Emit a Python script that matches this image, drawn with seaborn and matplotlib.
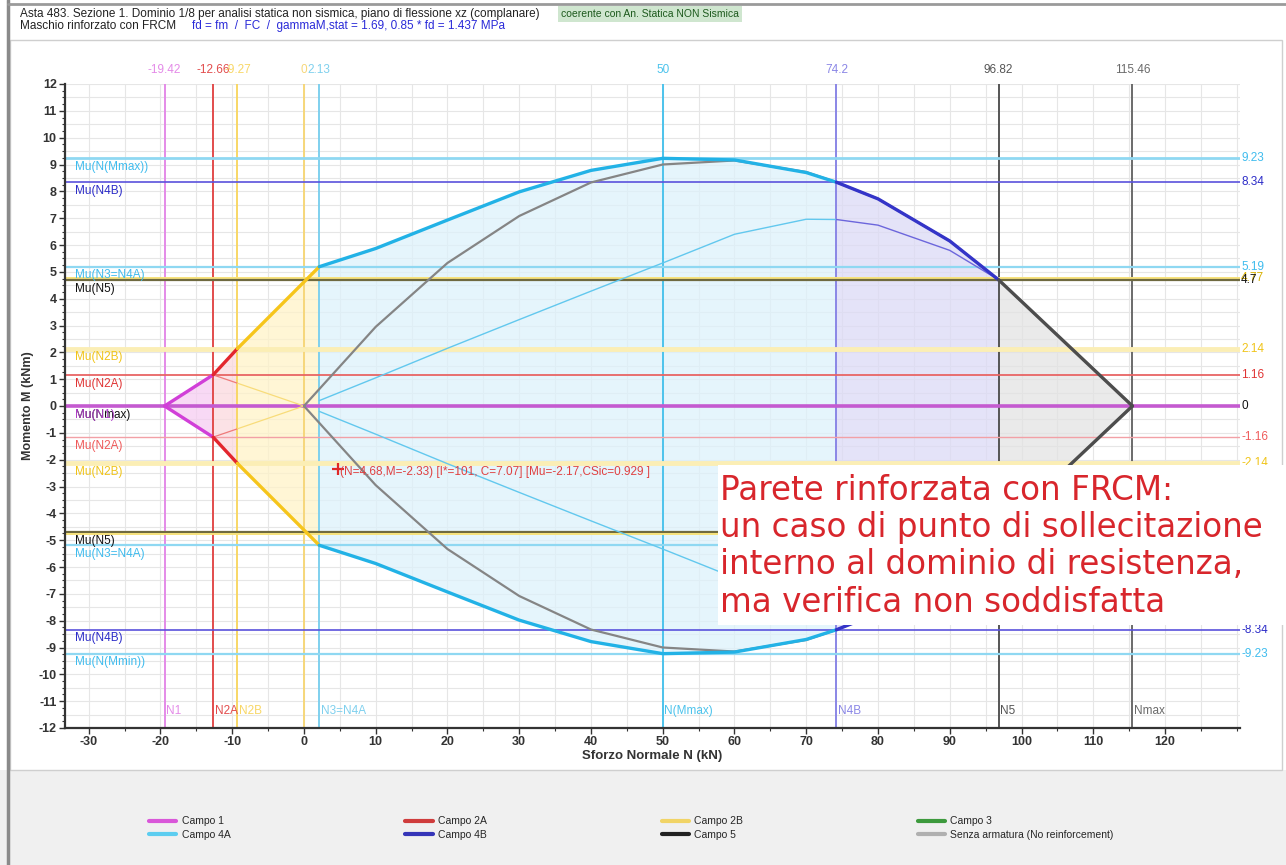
import numpy as np
import pandas as pd
import matplotlib
matplotlib.use("Agg")
import matplotlib.pyplot as plt
from matplotlib.lines import Line2D
from matplotlib.patches import Rectangle
import seaborn as sns

# ---- interaction domain data (N in kN, M in kNm) ----
dom_N = [-19.42, -12.66, -9.27, 2.13, 10, 20, 30, 40, 50, 60, 70, 74.2, 80, 90, 96.82, 115.46]
dom_M = [0.0, 1.16, 2.14, 5.19, 5.87, 6.93, 7.98, 8.78, 9.23, 9.17, 8.70, 8.34, 7.72, 6.15, 4.70, 0.0]
# index ranges of each strain field along the boundary
campo_names = ["Campo 1", "Campo 2A", "Campo 2B", "Campo 4A", "Campo 4B", "Campo 5"]
campo_idx = [(0, 1), (1, 2), (2, 3), (3, 11), (11, 14), (14, 15)]

# section without reinforcement
plain_N = [0, 10, 20, 30, 40, 50, 60, 70, 74.2, 80, 90, 96.82, 115.46]
plain_M = [0.0, 2.95, 5.33, 7.08, 8.33, 9.00, 9.15, 8.72, 8.34, 7.72, 6.15, 4.70, 0.0]

# inner branches (thin lines)
inner_a_N = [-12.66, -9.27]
inner_a_M = [1.16, 0.85]
inner_b_N = [-9.27, 0.0]
inner_b_M = [0.85, 0.0]
inner_c_N = [2.13, 10, 20, 30, 40, 50, 60, 70, 74.2]
inner_c_M = [0.20, 1.05, 2.15, 3.22, 4.28, 5.33, 6.40, 6.96, 6.95]
inner_d_N = [74.2, 80, 90, 96.82]
inner_d_M = [6.95, 6.74, 5.80, 4.70]

# characteristic axial forces (vertical lines)
v_N = [-19.42, -12.66, -9.27, 0.0, 2.13, 50, 74.2, 96.82, 115.46]
v_top = ["-19.42", "-12.66", "-9.27", "0", "2.13", "50", "74.2", "96.82", "115.46"]
v_bottom = ["N1", "N2A", "N2B", "", "N3=N4A", "N(Mmax)", "N4B", "N5", "Nmax"]

# characteristic resisting moments (horizontal lines)
h_M = [9.23, 8.34, 5.19, 4.77, 4.70, 2.14, 1.16, 0.0, -1.16, -2.14, -4.70, -4.77, -5.19, -8.34, -9.23]
h_right = ["9.23", "8.34", "5.19", "4.77", "4.7", "2.14", "1.16", "0", "-1.16", "-2.14", "", "", "", "-8.34", "-9.23"]
h_left = ["Mu(N(Mmax))", "Mu(N4B)", "Mu(N3=N4A)", "", "Mu(N5)", "Mu(N2B)", "Mu(N2A)", "Mu(Nmax)",
          "Mu(N2A)", "Mu(N2B)", "Mu(N5)", "", "Mu(N3=N4A)", "Mu(N4B)", "Mu(N(Mmin))"]

# verification point
pt_N, pt_M = 4.68, -2.33
pt_label = "(N=4.68,M=-2.33) [I*=101, C=7.07] [Mu=-2.17,CSic=0.929 ]"

legend_names = ["Campo 1", "Campo 2A", "Campo 2B", "Campo 3",
                "Campo 4A", "Campo 4B", "Campo 5", "Senza armatura (No reinforcement)"]

# ---- styling ----
sns.set_theme(style="white")
plt.rcParams["font.family"] = ["Liberation Sans", "DejaVu Sans"]
plt.rcParams["axes.unicode_minus"] = False

col_line = {"Campo 1": "#d13fd8", "Campo 2A": "#e3262e", "Campo 2B": "#f6c51b",
            "Campo 4A": "#22b2e6", "Campo 4B": "#3434c8", "Campo 5": "#4d4d4d"}
col_fill = {"Campo 1": "#f6cdf2", "Campo 2A": "#fbd9de", "Campo 2B": "#fff3c8",
            "Campo 4A": "#ddf2fb", "Campo 4B": "#dcdaf6", "Campo 5": "#e3e3e3"}
v_colors = ["#e48be8", "#e24c4c", "#f8d766", "#f6d77a", "#7fd0ee", "#4cc3ec", "#8a86e6", "#555555", "#6a6a6a"]
h_colors = ["#8fd8f2", "#5a52dc", "#8fd8f2", "#f7e27a", "#6f6a40", "#fbeeb5", "#e86464", "#c45ad0",
            "#f2a0a6", "#fbeeb5", "#6f6a40", "#f7e27a", "#8fd8f2", "#5a52dc", "#8fd8f2"]
h_widths = [2.0, 1.2, 1.6, 1.4, 1.6, 3.5, 1.3, 2.6, 1.0, 3.5, 1.6, 1.4, 1.6, 1.2, 1.6]
lab_colors = ["#3fbcee", "#2c2cc8", "#3fbcee", "#d8b000", "#111111", "#f0c419", "#e03434", "#111111",
              "#ef5a5a", "#f0c419", "#111111", "#d8b000", "#3fbcee", "#2c2cc8", "#3fbcee"]

W, H = 1286, 865
fig = plt.figure(figsize=(W / 100, H / 100), dpi=100, facecolor="white")

# page background pieces
fig.patches.append(Rectangle((0, 0), 1, 95 / H, transform=fig.transFigure,
                             facecolor="#f0f0f0", edgecolor="none", zorder=-5))
fig.patches.append(Rectangle((10 / W, 95 / H), 1272 / W, 730 / H, transform=fig.transFigure,
                             facecolor="white", edgecolor="#cfcfcf", lw=1.0, zorder=-4))
fig.add_artist(Line2D([8 / W, 8 / W], [0, 1], transform=fig.transFigure, color="#8a8a8a", lw=2.5))
fig.add_artist(Line2D([8 / W, 1], [1 - 4 / H, 1 - 4 / H], transform=fig.transFigure, color="#9a9a9a", lw=2))

x0, x1 = 65, 1240
y0, y1 = 84, 728
ax = fig.add_axes([x0 / W, 1 - y1 / H, (x1 - x0) / W, (y1 - y0) / H])
ax.set_facecolor("white")
ax.set_xlim(-33.3, 130.45)
ax.set_ylim(-12, 12)

# grid
ax.set_xticks(np.arange(-30, 121, 10))
ax.set_xticks(np.arange(-30, 131, 5), minor=True)
ax.set_yticks(np.arange(-12, 13, 1))
ax.set_yticks(np.arange(-12, 12.01, 0.25), minor=True)
for gx in np.arange(-30, 131, 5):
    ax.axvline(gx, color="#e6e6e6", lw=0.8, zorder=0)
for gy in np.arange(-11.5, 12.01, 0.5):
    ax.axhline(gy, color="#e6e6e6", lw=0.8, zorder=0)
ax.grid(False)

# filled regions of each field
dN = np.array(dom_N)
dM = np.array(dom_M)
for name, (i, j) in zip(campo_names, campo_idx):
    xs = dN[i:j + 1]
    ys = dM[i:j + 1]
    ax.fill_between(xs, ys, -ys, color=col_fill[name], alpha=0.75, lw=0, zorder=1)

# vertical reference lines
for n, c, lt, lb in zip(v_N, v_colors, v_top, v_bottom):
    ax.axvline(n, color=c, lw=1.4, zorder=2)
    ax.text(n, 12.3, lt, color=c, fontsize=8.5, ha="center", va="bottom", clip_on=False)
    if lb:
        ax.text(n + 0.2, -11.35, lb, color=c, fontsize=8.5, ha="left", va="center")

# horizontal reference lines with labels
for m, c, lw_, rl, ll, lc in zip(h_M, h_colors, h_widths, h_right, h_left, lab_colors):
    ax.axhline(m, color=c, lw=lw_, zorder=2)
    if rl:
        ax.text(1.001, m, rl, color=lc, fontsize=8.5, ha="left", va="center",
                transform=ax.get_yaxis_transform(), clip_on=False)
    if ll:
        ax.text(-31.9, m - 0.1, ll, color=lc, fontsize=8.5, ha="left", va="top", zorder=6)
# second label overlapping at M = 0
ax.text(-31.9, -0.1, "Mu(N1)", color="#b040c8", fontsize=8.5, ha="left", va="top", zorder=6)

# inner thin branches (upper and lower)
for sgn in (1, -1):
    sns.lineplot(x=inner_a_N, y=[sgn * v for v in inner_a_M], color="#ef7a7a", lw=0.9, sort=False, ax=ax, zorder=3)
    sns.lineplot(x=inner_b_N, y=[sgn * v for v in inner_b_M], color="#f8dc7a", lw=0.9, sort=False, ax=ax, zorder=3)
    sns.lineplot(x=inner_c_N, y=[sgn * v for v in inner_c_M], color="#62c8ee", lw=1.0, sort=False, ax=ax, zorder=3)
    sns.lineplot(x=inner_d_N, y=[sgn * v for v in inner_d_M], color="#6c66dc", lw=1.0, sort=False, ax=ax, zorder=3)
    sns.lineplot(x=plain_N, y=[sgn * v for v in plain_M], color="#858585", lw=1.6, sort=False, ax=ax, zorder=4)

# domain boundary, coloured by field
for sgn in (1, -1):
    for name, (i, j) in zip(campo_names, campo_idx):
        sns.lineplot(x=dN[i:j + 1], y=sgn * dM[i:j + 1], color=col_line[name], lw=2.4,
                     sort=False, ax=ax, zorder=5)

# verification point
ax.plot(pt_N, pt_M, marker="+", color="#e02828", ms=9, mew=1.6, zorder=7)
ax.text(pt_N + 0.3, pt_M - 0.12, pt_label, color="#e04040", fontsize=8.5, ha="left", va="center", zorder=7)

# axes decoration
for s in ("top", "right"):
    ax.spines[s].set_visible(False)
for s in ("left", "bottom"):
    ax.spines[s].set_color("#333333")
    ax.spines[s].set_linewidth(1.6)
ax.tick_params(axis="both", which="major", direction="out", length=4, width=1, color="#333333",
               labelsize=9, labelcolor="#333333", pad=2, left=True, bottom=True)
ax.tick_params(axis="both", which="minor", direction="out", length=2, width=0.8, color="#333333",
               left=True, bottom=True)
for lab in ax.get_xticklabels() + ax.get_yticklabels():
    lab.set_fontweight("bold")
ax.set_xlabel("Sforzo Normale N (kN)", fontsize=9.5, fontweight="bold", color="#333333", labelpad=1)
ax.set_ylabel("Momento M (kNm)", fontsize=9, fontweight="bold", color="#333333", labelpad=3)

# header
fig.text(20 / W, 1 - 14 / H, "Asta 483. Sezione 1. Dominio 1/8 per analisi statica non sismica, piano di flessione xz (complanare)",
         fontsize=8.5, color="#222222", ha="left", va="center")
fig.text(561 / W, 1 - 14 / H, "coerente con An. Statica NON Sismica", fontsize=7.5, color="#1d5a1d",
         ha="left", va="center", bbox=dict(boxstyle="square,pad=0.3", facecolor="#cfe6cf", edgecolor="none"))
fig.text(20 / W, 1 - 26 / H, "Maschio rinforzato con FRCM", fontsize=8.5, color="#222222", ha="left", va="center")
fig.text(192 / W, 1 - 26 / H, "fd = fm  /  FC  /  gammaM,stat = 1.69, 0.85 * fd = 1.437 MPa",
         fontsize=8.5, color="#2a2ad8", ha="left", va="center")

# highlighted note
fig.patches.append(Rectangle((718 / W, 1 - 625 / H), (W - 718) / W, 160 / H, transform=fig.transFigure,
                             facecolor="white", edgecolor="none", zorder=10))
note = ["Parete rinforzata con FRCM:", "un caso di punto di sollecitazione",
        "interno al dominio di resistenza,", "ma verifica non soddisfatta"]
for k, line in enumerate(note):
    fig.text(720 / W, 1 - (491 + 37 * k) / H, line, fontsize=23.5, color="#d8262c",
             family="DejaVu Sans", ha="left", va="center", zorder=11)

# legend
leg_colors = ["#d957d9", "#cf3c3c", "#f1d466", "#3d9a3d", "#5ccdf0", "#3535b8", "#222222", "#b0b0b0"]
handles = [Line2D([0], [0], color=c, lw=3) for c in leg_colors]
order = [0, 4, 1, 5, 2, 6, 3, 7]
fig.legend([handles[i] for i in order], [legend_names[i] for i in order], ncol=4,
           loc="center left", bbox_to_anchor=(140 / W, 1 - 828 / H), frameon=False,
           fontsize=7.5, handlelength=2.6, handletextpad=0.5, columnspacing=16.8, labelspacing=0.3)

fig.savefig("out.png", dpi=100, facecolor=fig.get_facecolor())
